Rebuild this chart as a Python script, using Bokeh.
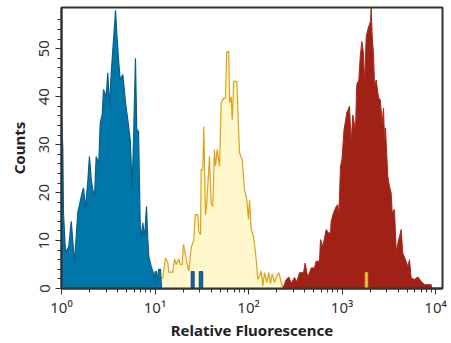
from bokeh.plotting import figure
from bokeh.models import Range1d, FixedTicker
from bokeh.embed import file_html
from bokeh.resources import INLINE

# ---- data (x as log10 of relative fluorescence, y as counts) ----
blue_log = [0.0, 0.0, 0.014, 0.021, 0.043, 0.078, 0.104, 0.139, 0.174, 0.193, 0.221, 0.235, 0.257,
            0.281, 0.299, 0.318, 0.335, 0.353, 0.371, 0.399, 0.414, 0.435, 0.449, 0.478, 0.495,
            0.513, 0.532, 0.549, 0.578, 0.591, 0.613, 0.628, 0.656, 0.685, 0.709, 0.735, 0.756,
            0.770, 0.791, 0.805, 0.824, 0.842, 0.852, 0.870, 0.888, 0.909, 0.923, 0.934, 0.959,
            0.976, 0.995, 1.000, 1.016, 1.021, 1.040, 1.059, 1.070]
blue_counts = [0, 35, 29.4, 15.8, 7.5, 8.8, 14, 5.4, 15.8, 17.5, 20, 21, 16.8,
               22.3, 27.5, 22.7, 20.6, 19.2, 27.5, 26.2, 34.5, 36.2, 41.5, 40, 45,
               38, 45, 49.8, 58, 53.3, 47, 43.5, 44.6, 38.7, 35.2, 31, 21.3,
               30.7, 48, 33.1, 32.8, 13, 10.5, 13.7, 10.5, 17.1, 10.2, 6.7, 4.6,
               3.6, 1.9, 3.5, 3.5, 1.0, 4.0, 4.0, 0]
blue_extra_left = [1.390, 1.476]
blue_extra_right = [1.417, 1.508]
blue_extra_counts = [3.5, 3.5]

yellow_log = [0.990, 0.995, 1.013, 1.083, 1.112, 1.137, 1.148, 1.190, 1.209, 1.227, 1.255, 1.270,
              1.291, 1.305, 1.334, 1.361, 1.387, 1.415, 1.430, 1.458, 1.468, 1.487, 1.494, 1.511,
              1.522, 1.540, 1.554, 1.583, 1.601, 1.618, 1.636, 1.647, 1.665, 1.690, 1.708, 1.733,
              1.754, 1.768, 1.789, 1.797, 1.815, 1.826, 1.843, 1.875, 1.886, 1.904, 1.933, 1.957,
              1.982, 2.000, 2.011, 2.029, 2.053, 2.075, 2.089, 2.099, 2.118, 2.136, 2.153, 2.171,
              2.196, 2.217, 2.235, 2.253, 2.278, 2.296, 2.324, 2.350, 2.367]
yellow_counts = [0, 0.5, 1.9, 2.2, 6.4, 5.4, 3.4, 3.4, 6.2, 5, 6.2, 5,
                 5, 9.2, 6, 3.6, 8.5, 10.2, 15.4, 15.4, 11.9, 11.2, 24.8, 24.8,
                 33.8, 15.4, 17.8, 27.6, 17.8, 17.1, 29, 25.5, 29, 25.5, 38.7, 39.7,
                 39.7, 49.4, 49.4, 38.7, 40, 35.2, 43.2, 43.2, 37.3, 28.3, 26.9, 20.6,
                 18.5, 14.4, 18.5, 12.3, 10.9, 7.4, 4.6, 1.9, 2.6, 3.6, 0.5, 3.3,
                 1.3, 3.3, 1.0, 3.0, 1.3, 2.3, 3.3, 1.3, 0]
yellow_extra_left = [3.250]
yellow_extra_right = [3.272]
yellow_extra_counts = [3.3]

red_log = [2.367, 2.403, 2.431, 2.457, 2.492, 2.517, 2.545, 2.588, 2.606, 2.634, 2.671, 2.706,
           2.724, 2.759, 2.770, 2.795, 2.831, 2.856, 2.877, 2.884, 2.909, 2.938, 2.955, 2.966,
           2.984, 3.000, 3.021, 3.051, 3.080, 3.098, 3.116, 3.144, 3.158, 3.180, 3.195, 3.212,
           3.230, 3.241, 3.259, 3.280, 3.305, 3.312, 3.323, 3.337, 3.348, 3.366, 3.383, 3.394,
           3.409, 3.430, 3.444, 3.455, 3.465, 3.490, 3.508, 3.526, 3.537, 3.561, 3.580, 3.607,
           3.633, 3.650, 3.679, 3.704, 3.722, 3.740, 3.775, 3.811, 3.847, 3.882, 3.954, 3.960]
red_counts = [0, 1.9, 2.4, 1.1, 2.3, 1.4, 3.3, 3.3, 5.3, 2.3, 4.3, 4.3,
              5.7, 5.7, 10.2, 8.8, 12.3, 11.6, 11.6, 14, 15.8, 17.1, 17.5, 15.1,
              25.5, 27, 33, 36.6, 38, 30.7, 36.2, 33, 42.5, 43.5, 48.4, 51.5,
              49.1, 42.8, 52.6, 54.3, 55.7, 58.5, 52.6, 48.8, 42.2, 43.5, 40.8, 39.7,
              39.4, 34.5, 37.6, 31, 33.5, 23.4, 21.3, 19.9, 15.8, 16.5, 7.8, 10.2,
              12.3, 7.4, 6, 4.6, 6, 2.2, 1.9, 2.4, 1.5, 0.8, 0.8, 0]

x_ticks = [1, 10, 100, 1000, 10000]
x_tick_labels = ["10\u2070", "10\u00b9", "10\u00b2", "10\u00b3", "10\u2074"]
y_ticks = [0, 10, 20, 30, 40, 50]


def lin(logs):
    return [10 ** v for v in logs]


def closed(logs, counts):
    xs = lin(logs)
    return [xs[0]] + xs + [xs[-1]], [0] + list(counts) + [0]


p = figure(width=450, height=342, x_axis_type="log",
           x_range=Range1d(1, 11880), y_range=Range1d(0, 58.6),
           output_backend="svg", toolbar_location=None,
           min_border_left=61, min_border_right=8, min_border_top=7, min_border_bottom=53,
           background_fill_color="white", border_fill_color="white")
p.grid.visible = False
p.outline_line_color = "#333333"
p.outline_line_width = 2

# red (bottom)
rx, ry = closed(red_log, red_counts)
p.patch(rx, ry, fill_color="#A02216", line_color="#A8281C", line_width=1)

# yellow
yx, yy = closed(yellow_log, yellow_counts)
p.patch(yx, yy, fill_color="#FFF8CC", line_color="#E0A018", line_width=1.2)
p.quad(left=lin(yellow_extra_left), right=lin(yellow_extra_right), bottom=0,
       top=yellow_extra_counts, fill_color="#FFF8CC", line_color="#E0A018", line_width=1.5)

# blue (top)
bx, by = closed(blue_log, blue_counts)
p.patch(bx, by, fill_color="#0077A9", line_color="#0B5E88", line_width=1.2)
p.quad(left=lin(blue_extra_left), right=lin(blue_extra_right), bottom=0,
       top=blue_extra_counts, fill_color="#0077A9", line_color="#1F4E8C", line_width=1.5)

minor = [m * d for d in [1, 10, 100, 1000] for m in range(2, 10)]
p.xaxis.ticker = FixedTicker(ticks=x_ticks, minor_ticks=minor)
p.xaxis.major_label_overrides = dict(zip(x_ticks, x_tick_labels))
p.yaxis.ticker = FixedTicker(ticks=y_ticks, minor_ticks=list(range(0, 58, 2)))
p.yaxis.major_label_orientation = "vertical"

for ax in [p.xaxis[0], p.yaxis[0]]:
    ax.axis_line_color = "#333333"
    ax.axis_line_width = 2
    ax.major_tick_line_color = "#333333"
    ax.minor_tick_line_color = "#333333"
    ax.major_tick_out = 6
    ax.major_tick_in = 0
    ax.minor_tick_out = 4
    ax.minor_tick_in = 0
    ax.major_label_text_font = "Noto Sans"
    ax.major_label_text_font_size = "15px"
    ax.major_label_text_color = "#333333"
    ax.axis_label_text_font = "Noto Sans"
    ax.axis_label_text_font_style = "bold"
    ax.axis_label_text_font_size = "15px"
    ax.axis_label_text_color = "#222222"

p.xaxis.axis_label = "Relative Fluorescence"
p.yaxis.axis_label = "Counts"
p.xaxis.major_label_standoff = 2
p.yaxis.major_label_standoff = 6
p.xaxis.axis_label_standoff = 0
p.yaxis.axis_label_standoff = 8

open("out.html", "w").write(file_html(p, INLINE))
